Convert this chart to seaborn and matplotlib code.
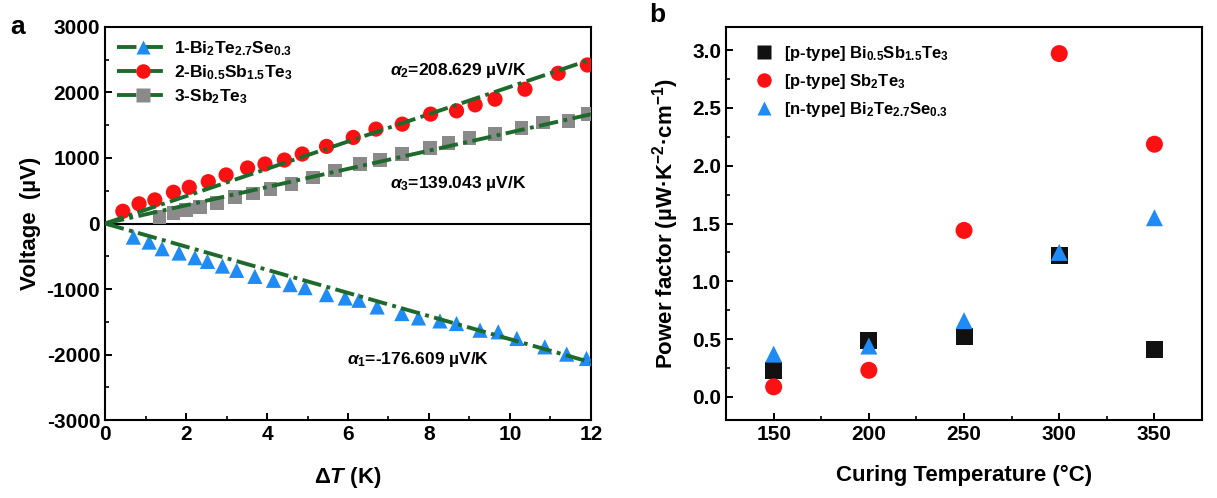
import numpy as np
import pandas as pd
import matplotlib
matplotlib.use("Agg")
import matplotlib.pyplot as plt
from matplotlib.lines import Line2D
from matplotlib.ticker import MultipleLocator
import seaborn as sns

# ---------------- data: panel a ----------------
dT_red = [0.44, 0.84, 1.23, 1.69, 2.08, 2.55, 2.99, 3.52, 3.95, 4.43, 4.87, 5.47,
          6.13, 6.69, 7.34, 8.04, 8.68, 9.14, 9.63, 10.37, 11.19, 11.91]
V_red = [187, 300, 360, 477, 553, 639, 741, 848, 908, 969, 1061, 1177,
         1314, 1441, 1517, 1670, 1720, 1811, 1898, 2050, 2293, 2420]

dT_gray = [1.34, 1.69, 2.0, 2.35, 2.76, 3.21, 3.66, 4.09, 4.61, 5.14, 5.68, 6.30,
           6.79, 7.34, 8.02, 8.48, 9.0, 9.63, 10.29, 10.82, 11.44, 11.93]
V_gray = [96, 157, 208, 248, 309, 401, 461, 528, 604, 705, 807, 908,
          969, 1061, 1152, 1228, 1304, 1365, 1456, 1542, 1568, 1670]

dT_blue = [0.70, 1.09, 1.41, 1.83, 2.22, 2.53, 2.90, 3.25, 3.70, 4.16, 4.57, 4.94, 5.47,
           5.93, 6.27, 6.72, 7.33, 7.74, 8.27, 8.68, 9.26, 9.71, 10.17, 10.86, 11.40, 11.89]
V_blue = [-208, -284, -385, -451, -522, -578, -650, -715, -807, -867, -933, -979, -1086,
          -1137, -1172, -1274, -1375, -1441, -1487, -1527, -1629, -1654, -1755, -1883, -1994, -2060]

series_names = ["1-Bi$_{2}$Te$_{2.7}$Se$_{0.3}$",
                "2-Bi$_{0.5}$Sb$_{1.5}$Te$_{3}$",
                "3-Sb$_{2}$Te$_{3}$"]
slopes = [-176.609, 208.629, 139.043]   # uV/K
fit_range = [0, 12]

# ---------------- data: panel b ----------------
curing_T = [150, 200, 250, 300, 350]
pf_bst = [0.225, 0.485, 0.525, 1.225, 0.41]
pf_sbte = [0.087, 0.23, 1.44, 2.97, 2.186]
pf_btse = [0.37, 0.44, 0.66, 1.25, 1.55]
b_names = ["[p-type] Bi$_{0.5}$Sb$_{1.5}$Te$_{3}$",
           "[p-type] Sb$_{2}$Te$_{3}$",
           "[n-type] Bi$_{2}$Te$_{2.7}$Se$_{0.3}$"]

# ---------------- style ----------------
sns.set_theme(style="ticks")
plt.rcParams["font.family"] = ["Liberation Sans", "DejaVu Sans"]
plt.rcParams.update({
    "font.weight": "bold",
    "axes.labelweight": "bold",
    "text.color": "black",
    "axes.labelcolor": "black",
    "mathtext.fontset": "custom",
    "mathtext.rm": "Liberation Sans:bold",
    "mathtext.bf": "Liberation Sans:bold",
    "mathtext.it": "Liberation Sans:italic:bold",
    "mathtext.default": "bf",
    "axes.unicode_minus": False,
    "axes.linewidth": 1.5,
    "xtick.direction": "in",
    "ytick.direction": "in",
    "xtick.major.width": 1.4,
    "ytick.major.width": 1.4,
    "xtick.minor.width": 1.2,
    "ytick.minor.width": 1.2,
    "xtick.major.size": 5,
    "ytick.major.size": 5,
    "xtick.minor.size": 3,
    "ytick.minor.size": 3,
    "xtick.color": "black",
    "ytick.color": "black",
    "xtick.labelcolor": "black",
    "ytick.labelcolor": "black",
    "axes.edgecolor": "black",
})

RED = "#fb1111"
BLUE = "#1f8bf5"
GRAY = "#8a8a8a"
BLACK = "#111111"
GREEN = "#1e6a2c"
DASH = (5.0, 1.4, 1.0, 1.4)
LEG_DASH = (5.0, 1.8)

fig = plt.figure(figsize=(12.17, 4.98), dpi=100)
axA = fig.add_axes([0.0863, 0.1566, 0.3993, 0.7892])
axB = fig.add_axes([0.5966, 0.1566, 0.3911, 0.7892])

# ---------------- panel a ----------------
dfr = pd.DataFrame({"dT": dT_red, "V": V_red})
dfg = pd.DataFrame({"dT": dT_gray, "V": V_gray})
dfb = pd.DataFrame({"dT": dT_blue, "V": V_blue})

sns.scatterplot(data=dfg, x="dT", y="V", ax=axA, marker="s", s=95, color=GRAY,
                edgecolor="none", zorder=3, legend=False)
sns.scatterplot(data=dfr, x="dT", y="V", ax=axA, marker="o", s=120, color=RED,
                edgecolor="none", zorder=3, legend=False)
sns.scatterplot(data=dfb, x="dT", y="V", ax=axA, marker="^", s=120, color=BLUE,
                edgecolor="none", zorder=3, legend=False)

fx = np.array(fit_range, dtype=float)
for k in slopes:
    fit = pd.DataFrame({"dT": fx, "V": k * fx})
    sns.lineplot(data=fit, x="dT", y="V", ax=axA, color=GREEN, lw=2.8,
                 dashes=False, zorder=4, legend=False).lines[-1].set_dashes(DASH)

axA.axhline(0, color="black", lw=1.5, zorder=2)
axA.set_xlim(0, 12)
axA.set_ylim(-3000, 3000)
axA.xaxis.set_major_locator(MultipleLocator(2))
axA.xaxis.set_minor_locator(MultipleLocator(1))
axA.yaxis.set_major_locator(MultipleLocator(1000))
axA.yaxis.set_minor_locator(MultipleLocator(500))
axA.tick_params(labelsize=15, which="both", top=False, right=False)
for lab in axA.get_xticklabels() + axA.get_yticklabels():
    lab.set_fontweight("bold")
for sp in axA.spines.values():
    sp.set_visible(True)
axA.set_xlabel(r"$\Delta\mathit{T}$ (K)", fontsize=16, labelpad=15)
axA.set_ylabel("Voltage  (µV)", fontsize=16, labelpad=4)

handles = [
    Line2D([], [], color=GREEN, lw=2.8, dashes=LEG_DASH, marker="^", markersize=10.5,
           markerfacecolor=BLUE, markeredgecolor="none"),
    Line2D([], [], color=GREEN, lw=2.8, dashes=LEG_DASH, marker="o", markersize=10.5,
           markerfacecolor=RED, markeredgecolor="none"),
    Line2D([], [], color=GREEN, lw=2.8, dashes=LEG_DASH, marker="s", markersize=9.5,
           markerfacecolor=GRAY, markeredgecolor="none"),
]
axA.legend(handles, series_names, loc="upper left", frameon=False, fontsize=12.5,
           handlelength=3.0, handletextpad=0.3, labelspacing=0.3,
           bbox_to_anchor=(0.0, 1.0), borderaxespad=0.3)

axA.text(7.04, 2330, r"$\mathit{\alpha}_{2}$=208.629 µV/K", fontsize=12.5,
         ha="left", va="center", fontweight="bold")
axA.text(7.04, 610, r"$\mathit{\alpha}_{3}$=139.043 µV/K", fontsize=12.5,
         ha="left", va="center", fontweight="bold")
axA.text(5.98, -2070, r"$\mathit{\alpha}_{1}$=-176.609 µV/K", fontsize=12.5,
         ha="left", va="center", fontweight="bold")

fig.text(18 / 1217, 1 - 27 / 498, "a", fontsize=19, fontweight="bold",
         ha="center", va="center")

# ---------------- panel b ----------------
dfB = pd.DataFrame({
    "T": curing_T * 3,
    "PF": pf_bst + pf_sbte + pf_btse,
    "mat": [b_names[0]] * 5 + [b_names[1]] * 5 + [b_names[2]] * 5,
})
sns.scatterplot(data=dfB, x="T", y="PF", hue="mat", style="mat", ax=axB,
                hue_order=b_names, style_order=b_names,
                palette=[BLACK, RED, BLUE],
                markers={b_names[0]: "s", b_names[1]: "o", b_names[2]: "^"},
                s=150, edgecolor="none", zorder=3)
axB.set_xlim(125, 375)
axB.set_ylim(-0.2, 3.2)
axB.xaxis.set_major_locator(MultipleLocator(50))
axB.xaxis.set_minor_locator(MultipleLocator(25))
axB.yaxis.set_major_locator(MultipleLocator(0.5))
axB.yaxis.set_minor_locator(MultipleLocator(0.25))
axB.tick_params(labelsize=15, which="both", top=False, right=False)
for lab in axB.get_xticklabels() + axB.get_yticklabels():
    lab.set_fontweight("bold")
for sp in axB.spines.values():
    sp.set_visible(True)
axB.set_xlabel("Curing Temperature (°C)", fontsize=16, labelpad=15)
axB.set_ylabel(r"Power factor (µW·K$^{-2}$·cm$^{-1}$)", fontsize=16, labelpad=8)

legB = axB.legend(loc="upper left", frameon=False, fontsize=12, title=None,
                  handletextpad=0.2, labelspacing=0.55, markerscale=0.85,
                  bbox_to_anchor=(0.01, 1.0), borderaxespad=0.6)

fig.text(657 / 1217, 1 - 15 / 498, "b", fontsize=19, fontweight="bold",
         ha="center", va="center")

fig.savefig("out.png", dpi=100)
